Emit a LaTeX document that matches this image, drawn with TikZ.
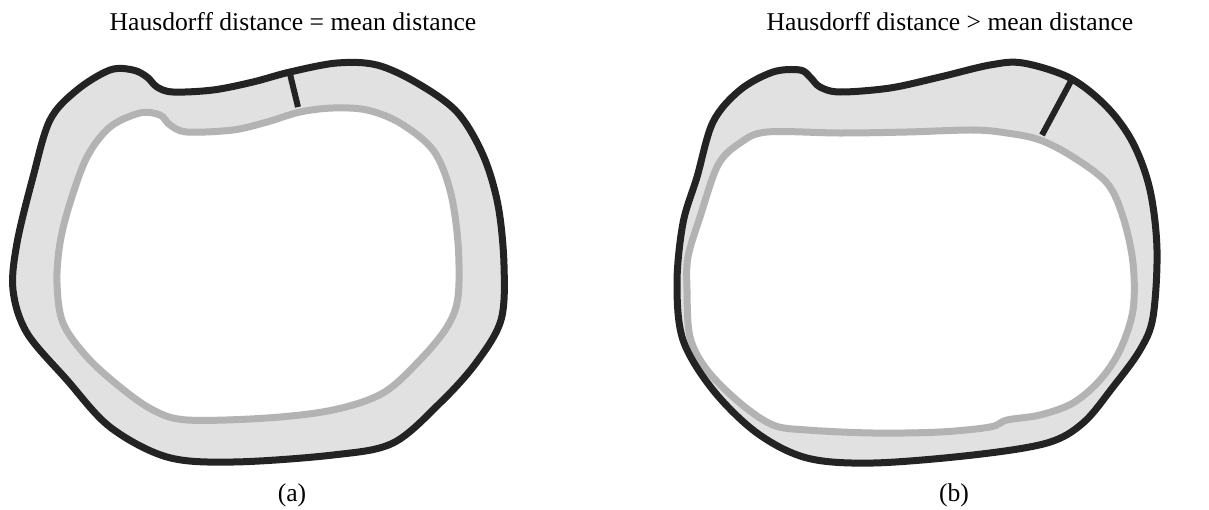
\documentclass[tikz,border=0pt]{standalone}
\usepackage{fontspec}
\setmainfont{Liberation Serif}
\definecolor{outline}{HTML}{232323}
\definecolor{innerline}{HTML}{B3B3B3}
\definecolor{band}{HTML}{E1E1E1}
\begin{document}
\begin{tikzpicture}[x=1pt,y=-1pt,
  outerc/.style={draw=outline,line width=7pt,line join=round},
  innerc/.style={draw=innerline,line width=7pt,line join=round},
  tickline/.style={draw=outline,line width=6pt},
  lbl/.style={font=\fontsize{25.6}{28}\selectfont,inner sep=0pt,anchor=base}]
\useasboundingbox (0,0) rectangle (1209,509);
% ---------- panel (a) ----------
\fill[band] plot[smooth cycle,tension=0.55] coordinates {
 (50,120) (77,90) (110,70) (133,70) (147,77) (157,87) (173,92) (213,90) (253,82)
 (290,72) (337,63) (377,65) (417,83) (457,112) (483,155) (498,205) (504,265)
 (501,320) (476,363) (440,403) (393,443) (333,455) (233,462) (167,457) (110,427)
 (67,380) (27,333) (13,290) (17,243) (33,177)};
\fill[white] plot[smooth cycle,tension=0.55] coordinates {
 (87,157) (110,127) (140,113) (160,115) (170,125) (187,132) (233,130) (267,122)
 (300,112) (333,108) (367,110) (400,123) (433,150) (450,190) (458,243) (458,297)
 (447,327) (420,360) (383,393) (333,410) (267,418) (187,420) (153,410) (120,387)
 (87,357) (63,323) (57,283) (60,243) (70,203)};
\draw[innerc] plot[smooth cycle,tension=0.55] coordinates {
 (87,157) (110,127) (140,113) (160,115) (170,125) (187,132) (233,130) (267,122)
 (300,112) (333,108) (367,110) (400,123) (433,150) (450,190) (458,243) (458,297)
 (447,327) (420,360) (383,393) (333,410) (267,418) (187,420) (153,410) (120,387)
 (87,357) (63,323) (57,283) (60,243) (70,203)};
\draw[outerc] plot[smooth cycle,tension=0.55] coordinates {
 (50,120) (77,90) (110,70) (133,70) (147,77) (157,87) (173,92) (213,90) (253,82)
 (290,72) (337,63) (377,65) (417,83) (457,112) (483,155) (498,205) (504,265)
 (501,320) (476,363) (440,403) (393,443) (333,455) (233,462) (167,457) (110,427)
 (67,380) (27,333) (13,290) (17,243) (33,177)};
\coordinate (ta1) at (290,74);
\coordinate (ta2) at (298,107);
\draw[tickline] (ta1) -- (ta2);
\node[lbl] (titlea) at (293,30) {Hausdorff distance = mean distance};
\node[lbl] (capa) at (292,501) {(a)};
% ---------- panel (b) ----------
\fill[band] plot[smooth cycle,tension=0.55] coordinates {
 (713,122) (740,90) (773,72) (800,70) (810,77) (820,87) (840,92) (890,88) (940,77)
 (990,65) (1023,63) (1070,78) (1107,107) (1133,143) (1150,190) (1157,250)
 (1153,317) (1140,350) (1113,387) (1083,423) (1047,443) (973,455) (873,463)
 (807,458) (757,433) (713,390) (683,340) (677,283) (683,223) (697,177)};
\fill[white] plot[smooth cycle,tension=0.55] coordinates {
 (718,165) (740,143) (767,132) (840,133) (907,132) (973,130) (1007,133) (1040,140)
 (1073,157) (1107,183) (1123,217) (1133,263) (1133,310) (1120,350) (1100,380)
 (1073,403) (1040,415) (1007,420) (990,427) (940,432) (873,433) (807,430) (773,425)
 (740,403) (707,370) (690,337) (687,290) (688,257) (700,217)};
\draw[innerc] plot[smooth cycle,tension=0.55] coordinates {
 (718,165) (740,143) (767,132) (840,133) (907,132) (973,130) (1007,133) (1040,140)
 (1073,157) (1107,183) (1123,217) (1133,263) (1133,310) (1120,350) (1100,380)
 (1073,403) (1040,415) (1007,420) (990,427) (940,432) (873,433) (807,430) (773,425)
 (740,403) (707,370) (690,337) (687,290) (688,257) (700,217)};
\draw[outerc] plot[smooth cycle,tension=0.55] coordinates {
 (713,122) (740,90) (773,72) (800,70) (810,77) (820,87) (840,92) (890,88) (940,77)
 (990,65) (1023,63) (1070,78) (1107,107) (1133,143) (1150,190) (1157,250)
 (1153,317) (1140,350) (1113,387) (1083,423) (1047,443) (973,455) (873,463)
 (807,458) (757,433) (713,390) (683,340) (677,283) (683,223) (697,177)};
\coordinate (tb1) at (1071,81);
\coordinate (tb2) at (1042,135);
\draw[tickline] (tb1) -- (tb2);
\node[lbl] (titleb) at (950,30) {Hausdorff distance > mean distance};
\node[lbl] (capb) at (954,501) {(b)};
\end{tikzpicture}
\end{document}
